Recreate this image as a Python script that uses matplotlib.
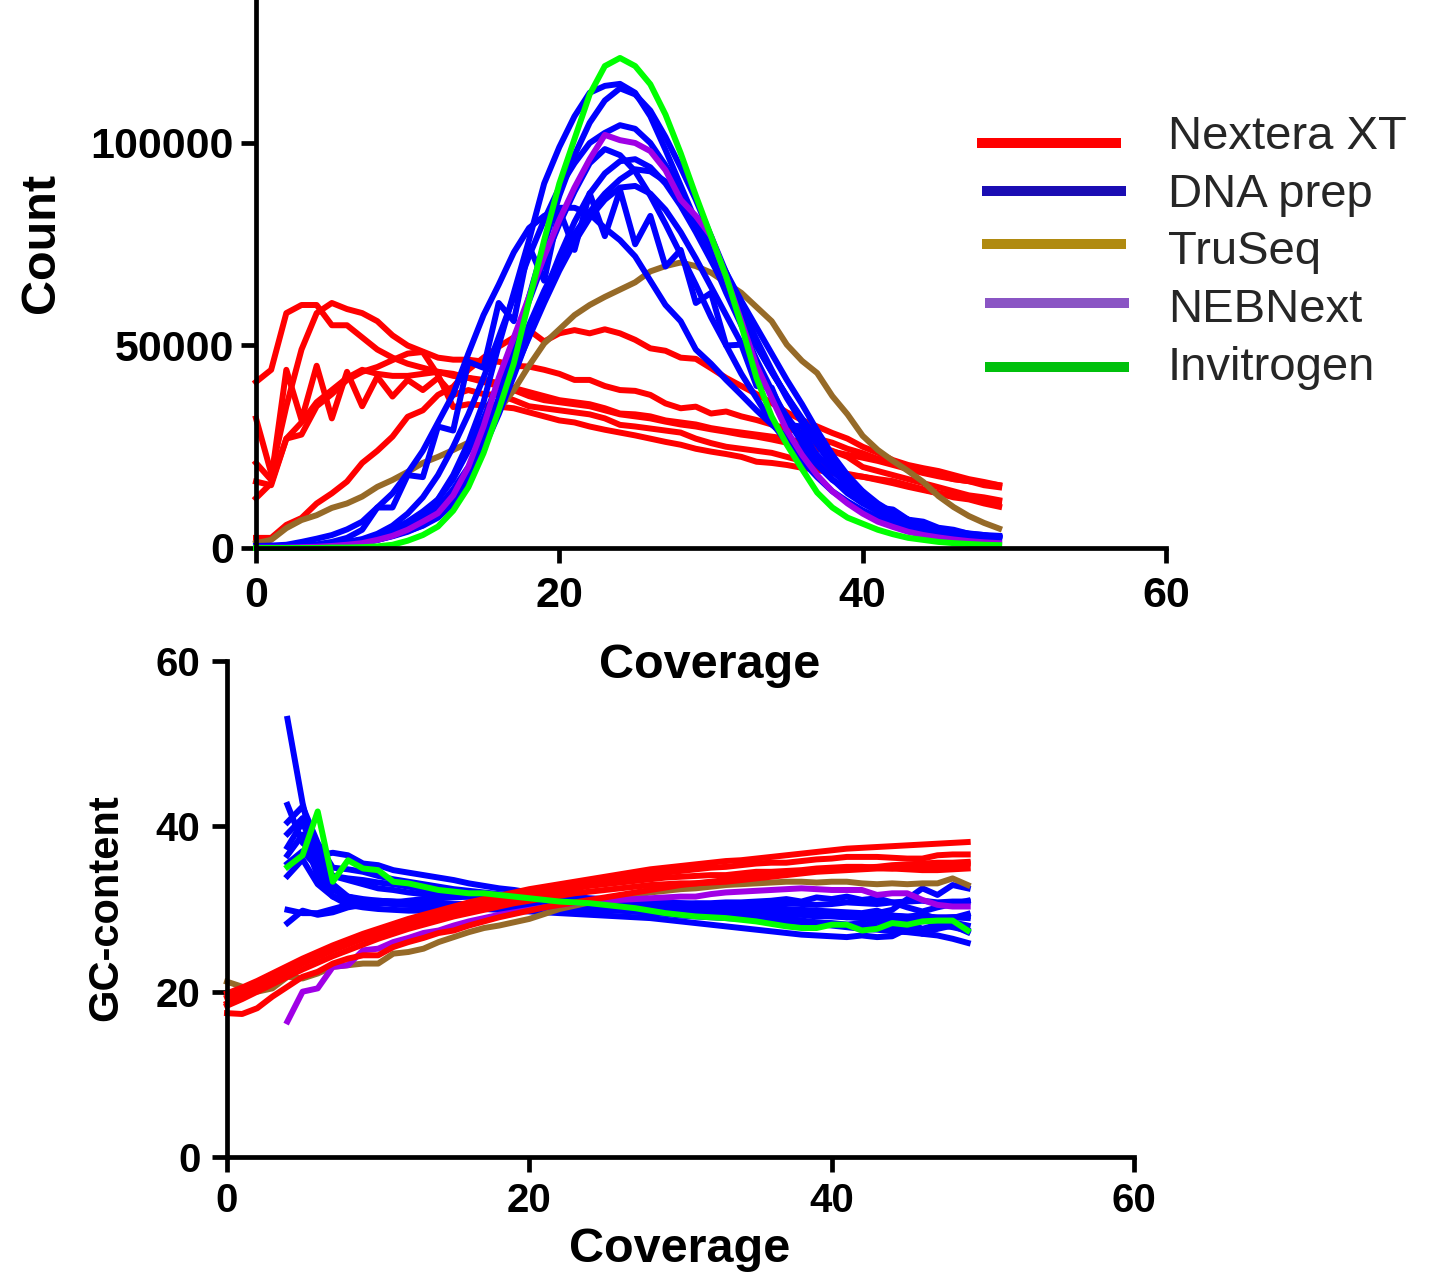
import matplotlib
matplotlib.use('Agg')
import matplotlib.pyplot as plt
import numpy as np
from matplotlib.lines import Line2D

plt.rcParams['font.family'] = ['Liberation Sans', 'DejaVu Sans']

# ---------------- DATA ----------------
# Top panel: Count (thousands) vs coverage 0..49
red_top = [
    [41, 44, 58, 60, 60, 55, 55, 52, 49, 47, 45.5, 44.5, 43.5, 42.5, 42, 41.5, 40.7, 39.5, 38.5, 37.5,
     36.5, 36, 35.5, 34.5, 33.2, 33, 32.5, 31.5, 31, 30.5, 29.6, 29, 28.5, 28, 27.5, 27, 26, 25, 24, 22.5,
     20, 19, 18, 17, 16, 15, 14, 13, 12.5, 11.8],
    [32, 18.5, 35, 49, 58, 60.5, 59, 58, 56, 52.5, 50, 48.5, 47, 46.5, 46.5, 46, 46, 45, 44.8, 44,
     43, 41.5, 41.5, 40, 39, 38.8, 37.8, 35.7, 34.5, 34.9, 33.2, 33.7, 32.5, 31.6, 30.5, 29.5, 28.5, 27, 26, 24.5,
     23.4, 22, 21, 20, 19, 18, 17, 16.5, 15.5, 15],
    [2.5, 2.5, 5.7, 7.4, 11, 13.5, 16.4, 21, 24, 27.5, 32.4, 34, 37.8, 39.8, 44, 47, 49.7, 52, 53.8, 51,
     53, 53.8, 53, 54, 53, 51.4, 49.3, 48.7, 47, 46.7, 44.4, 42, 40, 38, 35.8, 33.5, 31.6, 30, 28.4, 27,
     25, 23.5, 21.7, 20.5, 19.7, 19, 18, 17, 16.3, 15.5],
    [21, 16.8, 44, 31.6, 45, 32, 43.5, 35, 42.3, 37.4, 41.5, 39, 42, 37.8, 39, 38, 37.8, 36.5, 35, 34.5,
     34, 33.5, 33, 32, 30.4, 30, 29.5, 29, 28.5, 27, 25.9, 25, 24.5, 24, 23.5, 22.5, 21.5, 20.5, 19.3, 18.3,
     17.6, 17, 16.5, 15.5, 14.5, 13.5, 12.5, 12, 11, 10.2],
    [12.3, 16, 27, 28, 35, 38, 41.5, 43.5, 44.7, 46.4, 48, 48.4, 42.7, 34.8, 35.5, 35.2, 34.9, 34.5, 33.5, 32.5,
     31.5, 31, 30, 29.2, 28.5, 27.8, 27, 26.2, 25.5, 24.5, 23.8, 23.2, 22.5, 21.3, 21, 20.5, 19.8, 19.3, 18.5, 18,
     17.6, 16.8, 16, 15.1, 14.3, 13.5, 12.8, 12.2, 11.8, 11.5],
    [16.4, 15.5, 27, 31, 36, 39, 42, 44, 43, 42.5, 42.5, 43, 43.5, 43, 42, 41, 40, 39, 37.5, 36.5,
     36, 35.5, 35, 34, 33, 32.5, 32, 31.2, 30.5, 30, 29.3, 28.7, 28, 27.5, 26.8, 26, 25.2, 24.5, 23.8, 23,
     22.3, 21.5, 20.5, 19.5, 18.5, 17.7, 17, 16.5, 16, 15.5],
]
blue_top = [
    [0.5, 0.6, 0.8, 1.5, 2.3, 3.2, 4.6, 6.5, 10, 13.5, 18.5, 24, 31, 38, 48, 57.5, 65, 73, 79, 82,
     84, 84, 82.5, 79, 76, 72, 66, 60, 56, 49, 45.5, 41.5, 37.8, 34, 30.5, 27.3, 24.2, 20.5, 16.8, 14.5,
     12.7, 10.5, 8.6, 7, 5.3, 4.5, 3.7, 3.2, 2.8, 2.5],
    [0.3, 0.3, 0.4, 0.5, 0.7, 1, 1.4, 2, 2.8, 3.8, 5, 8, 12, 18, 26, 36, 50, 63, 76, 90,
     99, 106.6, 112.4, 114.1, 114.6, 112.4, 106.6, 98.3, 89.5, 80.7, 71.8, 63, 55, 46.5, 39, 32, 26, 21, 17, 13.5,
     11, 9, 7.5, 6.2, 5.2, 4.4, 3.7, 3.2, 2.8, 2.5],
    [0.2, 0.2, 0.3, 0.4, 0.5, 0.7, 1, 1.5, 2.3, 3.4, 5, 7, 9.5, 13.5, 19, 27, 37, 49, 62, 75,
     87, 97, 105, 110.5, 113.5, 112, 108, 101.5, 94, 86, 77, 68, 59.5, 51.5, 44, 37, 31, 25.5, 20.5, 16.5,
     13, 10.5, 8.4, 6.8, 5.5, 4.6, 3.9, 3.4, 3, 2.7],
    [0.3, 0.3, 0.4, 0.5, 0.7, 1, 1.5, 2.2, 3.5, 5.5, 8.5, 12.5, 18, 25, 33, 42, 52, 62, 72, 81,
     89, 95, 100, 102.5, 104.4, 103.5, 100, 94.5, 88, 80.5, 72.5, 64.5, 57, 50, 43.5, 37.5, 32, 27, 22, 17.5,
     13.5, 10.5, 8.2, 6.5, 5.2, 4.3, 3.6, 3.2, 2.9, 2.7],
    [0.3, 0.3, 0.4, 0.5, 0.7, 1, 1.4, 2, 3, 4.5, 6.5, 9, 12, 17, 24, 32, 41, 51, 61, 71,
     80, 88, 95, 98.5, 97, 93, 87, 80, 72.5, 65, 57, 50, 43, 37, 31, 26, 21.5, 17.5, 14, 11.5,
     9.3, 7.6, 6.3, 5.2, 4.4, 3.7, 3.2, 2.8, 2.5, 2.2],
    [0.2, 0.2, 0.3, 0.4, 0.5, 0.7, 1, 1.4, 2, 2.9, 4, 5.6, 8, 12, 17.5, 24.5, 33, 42.5, 52.5, 62.5,
     72, 80.5, 87.5, 92.5, 95.5, 96, 94, 90, 84.5, 78, 71, 64, 57, 50, 43.5, 37.5, 31.5, 26, 21, 17,
     13.5, 10.8, 8.5, 6.8, 5.5, 4.6, 3.9, 3.4, 3, 2.7],
    [0.2, 0.2, 0.2, 0.3, 0.4, 0.6, 0.9, 1.3, 2, 3, 4.2, 5.5, 7.5, 11, 16.5, 24, 34.5, 45, 55, 63.5,
     71, 77.5, 83, 87.5, 91, 93.5, 93, 90.5, 86.5, 81, 75, 68, 61, 54.5, 48, 41.5, 35.5, 29, 23, 18,
     14, 11, 8.7, 7, 5.7, 4.8, 4.1, 3.6, 3.2, 3],
    [0.3, 0.3, 0.4, 0.5, 0.7, 1, 1.4, 2, 2.8, 4, 5.5, 7.5, 10, 14.5, 20, 27, 35, 43.5, 52, 60.5,
     68.5, 75.5, 81.5, 86, 89, 89.4, 87.5, 83.5, 78, 71.5, 64.5, 57.5, 50.5, 44, 38, 32.5, 27.5, 23, 19, 15.5,
     12.5, 10, 8, 6.4, 5.2, 4.3, 3.6, 3.1, 2.7, 2.4],
    [0.3, 0.3, 0.4, 0.6, 0.9, 1.5, 2.5, 4.5, 10, 10, 18, 17.5, 30, 29, 46, 44.5, 60.5, 56, 74.5, 66,
     83.5, 73.6, 87.6, 77, 88.4, 75, 82, 69.5, 73.6, 60.5, 63, 50, 50.2, 40, 39.6, 30.4, 30, 22, 21, 15,
     14, 10, 9.5, 7, 6.5, 5, 4.5, 3.5, 3.2, 2.5],
]
brown_top = [1.2, 2, 4.9, 6.9, 8.1, 9.9, 11, 12.7, 15.1, 16.8, 18.8, 21, 22.5, 24.2, 26, 30, 34, 39, 45, 50.5,
             54, 57.5, 60, 62, 63.8, 65.6, 68.3, 69.6, 70.5, 69.6, 68, 65.5, 63, 59.5, 56, 50.2, 46.2, 43.2, 37.5, 33,
             27.7, 24.2, 21.5, 19, 16.3, 12.8, 10.1, 7.9, 6.2, 4.8]
purple_top = [0.1, 0.1, 0.1, 0.2, 0.3, 0.5, 0.8, 1.2, 2, 3, 4.5, 6.5, 8.6, 13, 20, 30, 42, 52, 62, 72,
              81, 89, 96, 102, 100.7, 100, 98, 93.3, 86, 82, 77, 67, 56, 45, 37, 29, 23, 18, 14, 11,
              8.5, 6.5, 5.2, 4, 3.2, 2.6, 2.1, 1.7, 1.4, 1.2]
green_top = [0, 0, 0, 0, 0, 0.1, 0.1, 0.2, 0.4, 0.8, 1.8, 3.2, 5.3, 9.2, 15, 23.4, 34, 45.6, 61, 76,
             90, 101, 112, 119, 121, 119, 114.5, 107, 97.5, 87, 77, 67, 55, 42, 32.5, 25.5, 19.5, 13.7, 10, 7.5,
             6, 4.5, 3.4, 2.5, 2, 1.5, 1.2, 1, 0.8, 0.7]

# Bottom panel: GC-content vs coverage
red_bot = [
    [19.8, 20.5, 21.3, 22.2, 23.1, 24, 24.8, 25.6, 26.3, 27, 27.6, 28.2, 28.8, 29.3, 29.8, 30.3, 30.8, 31.2, 31.6, 32,
     32.4, 32.7, 33, 33.3, 33.6, 33.9, 34.2, 34.5, 34.8, 35, 35.2, 35.4, 35.6, 35.8, 35.9, 36.1, 36.3, 36.5, 36.7, 36.9,
     37.1, 37.3, 37.4, 37.5, 37.6, 37.7, 37.8, 37.9, 38, 38.1],
    [19.3, 20, 20.9, 21.8, 22.8, 23.7, 24.5, 25.3, 26, 26.7, 27.3, 27.9, 28.5, 29, 29.5, 30, 30.4, 30.8, 31.2, 31.6,
     32, 32.3, 32.6, 32.9, 33.2, 33.4, 33.7, 34, 34.2, 34.4, 34.6, 34.8, 35, 35.1, 35.3, 35.5, 35.6, 35.6, 35.8, 36,
     36.1, 36.3, 36.3, 36.3, 36.2, 36.1, 36.1, 36.5, 36.6, 36.6],
    [18.6, 19.6, 20.6, 21.6, 22.5, 23.4, 24.2, 25, 25.7, 26.4, 27, 27.6, 28.2, 28.7, 29.2, 29.7, 30.1, 30.5, 30.9, 31.3,
     31.6, 31.9, 32.2, 32.5, 32.8, 33, 33.2, 33.4, 33.6, 33.8, 33.9, 34, 34.1, 34.1, 34.3, 34.5, 34.5, 34.6, 34.7, 34.9,
     35, 35.1, 35.1, 35, 34.9, 35.1, 35.3, 35.3, 35.4, 35.5],
    [18.3, 19.1, 20, 20.9, 21.8, 22.7, 23.5, 24.3, 25, 25.7, 26.4, 27, 27.6, 28.1, 28.6, 29.1, 29.5, 29.9, 30.3, 30.7,
     31, 31.3, 31.6, 31.9, 32.1, 32.3, 32.5, 32.7, 32.9, 33, 33.1, 33.1, 33.2, 33.3, 33.5, 33.7, 33.9, 34.1, 34.3, 34.5,
     34.6, 34.7, 34.8, 34.9, 34.9, 34.8, 34.7, 34.7, 34.8, 34.9],
    [17.4, 17.3, 18, 19.4, 20.6, 21.8, 22.4, 23.4, 24, 24.4, 24.4, 25.4, 26, 26.5, 27.1, 27.4, 28, 28.5, 29, 29.4,
     29.8, 30.2, 30.5, 30.8, 31.1, 31.4, 31.7, 32, 32.3, 32.6, 32.9, 33.1, 33.3, 33.5, 33.7, 33.9, 34.1, 34.3, 34.5, 34.7,
     34.8, 34.9, 35, 35.1, 35.3, 35.4, 35.5, 35.6, 35.6, 35.7],
]
blue_bot_start = 4
blue_bot = [
    [53, 42.8, 35.1, 32.3, 31.5, 31.2, 31, 30.9, 30.8, 30.7,
     30.7, 30.6, 30.6, 30.5, 30.5, 30.4, 30.4, 30.3, 30.3, 30.2, 30.2, 30.1, 30.1, 30.0, 30.0, 29.9, 29.9, 29.8,
     29.8, 29.7, 29.7, 29.6, 29.6, 29.5, 29.5, 29.4, 29.4, 29.3, 29.3, 29.2, 29.2, 29.1, 29.1, 29, 29, 28.9],
    [42.6, 38, 36.5, 36.8, 36.5, 35.5, 35.3, 34.7, 34.4, 34.1,
     33.8, 33.5, 33.1, 32.8, 32.5, 32.3, 32, 31.8, 31.6, 31.4, 31.2, 31, 30.8, 30.6, 30.4, 30.2, 30, 29.8,
     29.6, 29.4, 29.2, 29, 28.8, 28.6, 28.4, 28.2, 28, 27.8, 27.6, 27.5, 27.3, 27.2, 27, 26.8, 26.4, 25.9],
    [39.1, 41, 37, 34, 33.5, 33, 32.5, 32.3, 32, 31.8,
     31.7, 31.6, 31.5, 31.4, 31.3, 31.2, 31.1, 31, 31, 30.9, 30.9, 30.8, 30.8, 30.8, 30.7, 30.7, 30.7, 30.6,
     30.6, 30.6, 30.5, 30.5, 30.6, 30.7, 30.6, 30.5, 30.6, 30.8, 30.7, 30.6, 30.8, 30.9, 31, 30.8, 30.9, 30.9],
    [37.5, 40.5, 36, 33, 31.5, 31, 30.8, 30.6, 30.5, 30.4,
     30.4, 30.3, 30.3, 30.2, 30.2, 30.1, 30.1, 30, 30, 29.9, 29.9, 29.8, 29.8, 29.7, 29.7, 29.6, 29.6, 29.5,
     29.6, 29.4, 29.5, 29.3, 29.4, 29.2, 29.3, 29.1, 29.2, 29, 29.3, 29.5, 29.9, 31.2, 32.5, 31.7, 32.9, 32.5],
    [36.5, 39, 34, 31.5, 30.5, 30.2, 30, 29.9, 29.8, 29.8,
     29.8, 29.9, 29.9, 30, 30, 30.1, 30.1, 30.2, 30.2, 30.3, 30.3, 30.4, 30.4, 30.5, 30.5, 30.6, 30.6, 30.7,
     30.7, 30.8, 30.8, 30.9, 31, 31.2, 30.9, 31.4, 31.2, 31.5, 31.1, 31.3, 30.8, 30.2, 29.7, 30.2, 30.6, 31],
    [35.5, 37, 35, 34, 33.7, 33.5, 33.2, 33, 32.7, 32.4,
     32.2, 32, 31.8, 31.6, 31.4, 31.2, 31, 30.8, 30.6, 30.4, 30.2, 30, 29.9, 29.7, 29.5, 29.4, 29.2, 29.1,
     29, 28.9, 28.8, 28.7, 28.6, 28.5, 28.4, 28.3, 28.2, 28.1, 28.3, 27.8, 27.5, 28.2, 27, 27.6, 28, 27.2],
    [29.9, 29.5, 29.5, 30, 30.5, 31, 31, 30.9, 30.8, 30.7,
     30.6, 30.5, 30.5, 30.4, 30.4, 30.3, 30.3, 30.2, 30.2, 30.1, 30, 29.9, 29.8, 29.7, 29.6, 29.5, 29.4, 29.3,
     29.2, 29.1, 29, 28.9, 28.8, 28.7, 28.6, 28.4, 28.3, 28.1, 28, 28.5, 27.8, 28.4, 27.6, 28.1, 27.8, 27.4],
    [28.3, 29.8, 29.3, 29.6, 30.2, 30.5, 30.6, 30.8, 31, 31.2,
     31.3, 31.4, 31.5, 31.5, 31.6, 31.6, 31.6, 31.5, 31.5, 31.4, 31.3, 31.2, 31.1, 31, 30.9, 30.8, 30.7, 30.6,
     30.5, 30.4, 30.3, 30.2, 30.1, 30, 29.9, 29.8, 29.7, 29.6, 29.5, 29.8, 29.2, 29, 29.4, 28.8, 29, 29.1],
    [40.5, 42.4, 38, 35, 34.8, 34.5, 34, 33.6, 33.3, 33,
     32.7, 32.4, 32.2, 32, 31.8, 31.6, 31.4, 31.2, 31, 30.9, 30.8, 30.7, 30.5, 30.4, 30.3, 30.2, 30.1, 30,
     29.9, 29.8, 29.7, 29.6, 29.5, 29.4, 29.3, 29.2, 29.1, 29, 28.9, 28.8, 28.7, 28.6, 28.5, 28.6, 28.9, 29.4],
    [34, 36, 33, 31.5, 31.2, 31, 30.8, 30.6, 30.5, 30.4,
     30.3, 30.2, 30.1, 30, 29.9, 29.8, 29.7, 29.6, 29.5, 29.4, 29.3, 29.2, 29.1, 29, 28.9, 28.7, 28.5, 28.3,
     28.1, 27.9, 27.7, 27.5, 27.3, 27.1, 26.9, 26.8, 26.7, 26.6, 26.8, 26.6, 26.7, 27.6, 27.2, 27.9, 28.4, 28],
]
brown_bot = [21.2, 20.6, 20, 20.4, 21.8, 21.6, 22.2, 23, 23.2, 23.4, 23.4, 24.6, 24.8, 25.2, 26, 26.6, 27.2, 27.7, 28, 28.4,
             28.8, 29.4, 30, 30.4, 30.8, 31.1, 31.4, 31.7, 32, 32.2, 32.4, 32.5, 32.7, 32.9, 33, 33.1, 33.2, 33.3, 33.3, 33.2,
             33.3, 33.3, 33.1, 33, 33.1, 33, 33.1, 33.1, 33.7, 32.9]
purple_bot = [16.4, 20, 20.4, 23, 23.2, 25, 25.2, 26, 26.5, 27.1, 27.4, 28, 28.5, 28.9, 29.3, 29.6, 29.9, 30.2, 30.5, 30.7,
              30.9, 31, 31.1, 31.2, 31.3, 31.4, 31.5, 31.5, 31.8, 32, 32.1, 32.2, 32.3, 32.4, 32.5, 32.4, 32.3, 32.3, 32.3, 31.7,
              31.9, 31.9, 31.1, 30.5, 30.3, 30.3]
green_bot = [35.1, 36.5, 41.8, 33.3, 35.9, 34.9, 34.7, 33.3, 33.1, 32.7, 32.3, 32.1, 31.9, 31.9, 31.7, 31.5, 31.3, 31.1, 30.9, 30.8,
             30.7, 30.5, 30.3, 30.1, 29.8, 29.5, 29.3, 29.1, 29, 28.9, 28.7, 28.5, 28.2, 27.9, 27.7, 27.7, 28.1, 28.1, 27.4, 27.6,
             28.3, 28.1, 28.5, 28.6, 28.6, 27.4]

legend_labels = ['Nextera XT', 'DNA prep', 'TruSeq', 'NEBNext', 'Invitrogen']
legend_colors = ['#FF0000', '#1A0DB3', '#B08A10', '#8A55C4', '#00C00C']

x_ticks = [0, 20, 40, 60]
top_yticks = [0, 50000, 100000]
bot_yticks = [0, 20, 40, 60]

# ---------------- STYLE ----------------
RED, BLUE, BROWN, PURPLE, GREEN = '#FF0000', '#0000FF', '#966A28', '#A000E6', '#00FF00'
LW = 4.3
SPW = 3.4
W, H = 1435, 1274

fig = plt.figure(figsize=(W / 100, H / 100), dpi=100)
ax1 = fig.add_axes([256 / W, 1 - 548 / H, (1166 - 256) / W, 548 / H])
ax2 = fig.add_axes([227 / W, 1 - 1157 / H, (1134 - 227) / W, (1157 - 661) / H])


def xs(vals, start=0):
    return np.arange(start, start + len(vals))


# top panel
for v in red_top:
    ax1.plot(xs(v), np.array(v) * 1000, color=RED, lw=LW, zorder=2, clip_on=False)
ax1.plot(xs(brown_top), np.array(brown_top) * 1000, color=BROWN, lw=LW, zorder=2.05, clip_on=False)
for v in blue_top:
    ax1.plot(xs(v), np.array(v) * 1000, color=BLUE, lw=LW, zorder=2.1, clip_on=False)
ax1.plot(xs(purple_top), np.array(purple_top) * 1000, color=PURPLE, lw=LW, zorder=2.15, clip_on=False)
ax1.plot(xs(green_top), np.array(green_top) * 1000, color=GREEN, lw=LW, zorder=2.2, clip_on=False)

ax1.set_xlim(0, 60)
ax1.set_ylim(0, 548 / 405 * 100000)
ax1.set_xticks(x_ticks)
ax1.set_yticks(top_yticks)
ax1.set_yticklabels([str(t) for t in top_yticks])

# bottom panel
for v in blue_bot:
    ax2.plot(xs(v, blue_bot_start), v, color=BLUE, lw=LW, zorder=2, clip_on=False)
ax2.plot(xs(brown_bot), brown_bot, color=BROWN, lw=LW, zorder=2.05, clip_on=False)
ax2.plot(xs(purple_bot, blue_bot_start), purple_bot, color=PURPLE, lw=LW, zorder=2.1, clip_on=False)
for v in red_bot:
    ax2.plot(xs(v), v, color=RED, lw=LW, zorder=2.15, clip_on=False)
ax2.plot(xs(green_bot, blue_bot_start), green_bot, color=GREEN, lw=LW, zorder=2.2, clip_on=False)

ax2.set_xlim(0, 60)
ax2.set_ylim(0, 60)
ax2.set_xticks(x_ticks)
ax2.set_yticks(bot_yticks)

for ax, fs, xpad, ypad in [(ax1, 31, 9, 5), (ax2, 29, 7, 8)]:
    for s in ['top', 'right']:
        ax.spines[s].set_visible(False)
    for s in ['left', 'bottom']:
        ax.spines[s].set_linewidth(SPW)
        ax.spines[s].set_color('black')
        ax.spines[s].set_zorder(3)
        ax.spines[s].set_capstyle('projecting')
    ax.tick_params(axis='both', direction='out', length=11, width=SPW, labelsize=fs, colors='black')
    ax.tick_params(axis='x', pad=xpad)
    ax.tick_params(axis='y', pad=ypad)
    for lab in ax.get_xticklabels() + ax.get_yticklabels():
        lab.set_fontweight('bold')
    ax.set_facecolor('none')

# axis labels
fig.text(42 / W, 1 - 243 / H, 'Count', rotation=90, ha='center', va='center', fontsize=35, fontweight='bold')
fig.text(710 / W, 1 - 665 / H, 'Coverage', ha='center', va='center', fontsize=35, fontweight='bold')
fig.text(106 / W, 1 - 908 / H, 'GC-content', rotation=90, ha='center', va='center', fontsize=30, fontweight='bold')
fig.text(680 / W, 1 - 1250 / H, 'Coverage', ha='center', va='center', fontsize=35, fontweight='bold')

# legend (manual)
leg_line_y = [143, 191, 244, 302.5, 366.5]
leg_line_x = [(977, 1121), (982, 1126), (982, 1126), (985, 1129), (985, 1129)]
leg_text_base = [149, 207, 264, 322, 380]
for lab, col, ly, (lx0, lx1), tb in zip(legend_labels, legend_colors, leg_line_y, leg_line_x, leg_text_base):
    fig.add_artist(Line2D([lx0 / W, lx1 / W], [1 - ly / H, 1 - ly / H], transform=fig.transFigure,
                          color=col, lw=7.2, solid_capstyle='butt'))
    fig.text(1168 / W, 1 - tb / H, lab, ha='left', va='baseline', fontsize=34, color='#262626')

fig.savefig('out.png', dpi=100)
